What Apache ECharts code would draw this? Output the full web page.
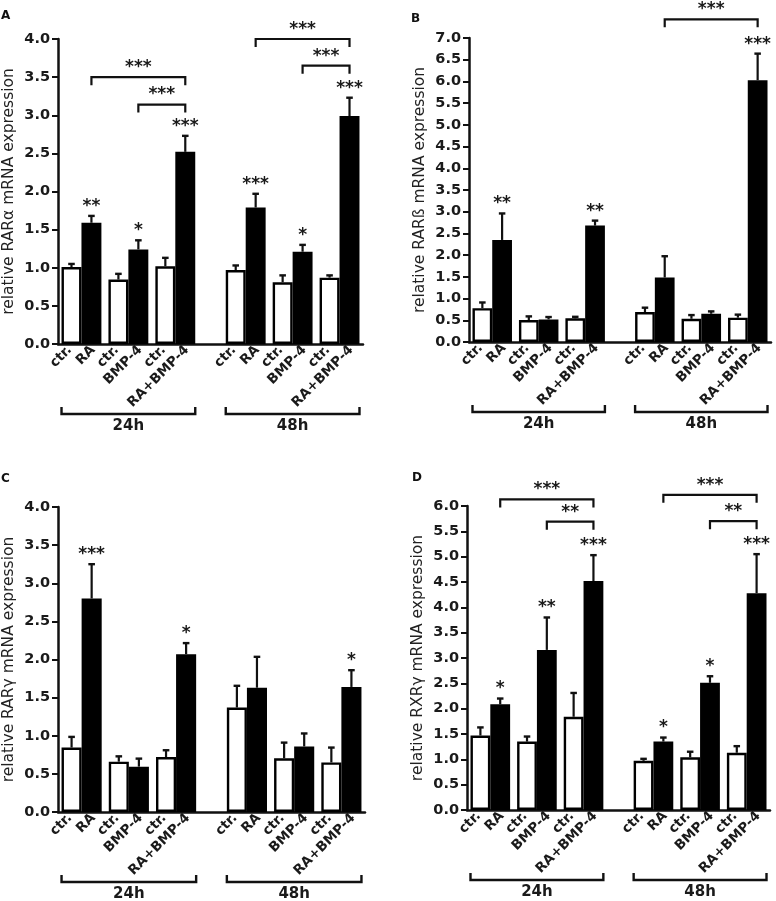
<!DOCTYPE html>
<html><head><meta charset="utf-8">
<script src="https://cdn.jsdelivr.net/npm/echarts@6/dist/echarts.min.js"></script>
<style>html,body{margin:0;padding:0;background:#fff;}#c{width:776px;height:901px;}</style>
</head><body><div id="c"></div>
<script>
// ---------- data ----------
const slotLabels = ['ctr.','RA','ctr.','BMP-4','ctr.','RA+BMP-4','','ctr.','RA','ctr.','BMP-4','ctr.','RA+BMP-4'];
const groupLabels = ['24h','48h'];
const panelLetters = ['A','B','C','D'];
const yTitles = ['relative RARα mRNA expression','relative RARß mRNA expression','relative RARγ mRNA expression','relative RXRγ mRNA expression'];
const yMax = [4.0, 7.0, 4.0, 6.0];

// Panel A (RARα)
const aCtrMean = [1.01, 0.845, 1.02, 0.97, 0.81, 0.87];
const aCtrSem  = [0.04, 0.075, 0.11, 0.06, 0.09, 0.03];
const aTrtMean = [1.59, 1.24, 2.52, 1.79, 1.21, 2.99];
const aTrtSem  = [0.09, 0.12, 0.21, 0.18, 0.09, 0.24];
const aSig     = ['**','*','***','***','*','***'];
const aBrackets = [[0,2,3.50,'***'],[1,2,3.14,'***'],[3,5,4.00,'***'],[4,5,3.65,'***']];

// Panel B (RARß)
const bCtrMean = [0.78, 0.505, 0.545, 0.69, 0.535, 0.56];
const bCtrSem  = [0.13, 0.085, 0.035, 0.10, 0.085, 0.07];
const bTrtMean = [2.35, 0.52, 2.68, 1.485, 0.65, 6.03];
const bTrtSem  = [0.61, 0.055, 0.115, 0.49, 0.055, 0.61];
const bSig     = ['**','','**','','','***'];
const bBrackets = [[3,5,7.43,'***']];

// Panel C (RARγ)
const cCtrMean = [0.845, 0.66, 0.72, 1.37, 0.705, 0.65];
const cCtrSem  = [0.14, 0.07, 0.09, 0.285, 0.205, 0.195];
const cTrtMean = [2.80, 0.595, 2.07, 1.63, 0.86, 1.64];
const cTrtSem  = [0.45, 0.105, 0.145, 0.405, 0.17, 0.22];
const cSig     = ['***','','*','','','*'];
const cBrackets = [];

// Panel D (RXRγ)
const dCtrMean = [1.47, 1.35, 1.84, 0.97, 1.04, 1.13];
const dCtrSem  = [0.16, 0.10, 0.47, 0.04, 0.11, 0.13];
const dTrtMean = [2.085, 3.16, 4.52, 1.35, 2.51, 4.28];
const dTrtSem  = [0.115, 0.64, 0.51, 0.08, 0.13, 0.77];
const dSig     = ['*','**','***','*','*','***'];
const dBrackets = [[0,2,6.13,'***'],[1,2,5.69,'**'],[3,5,6.22,'***'],[4,5,5.70,'**']];

// ---------- layout ----------
const layout = [
  {left:57,  top:39,  width:306, height:305, letter:[6,14]},
  {left:469, top:38,  width:302, height:304, letter:[416,17]},
  {left:58,  top:507, width:307, height:305, letter:[6,477]},
  {left:467, top:506, width:303, height:304, letter:[417,476]}
];
const panels = [
  {ctr:aCtrMean, ctrSem:aCtrSem, trt:aTrtMean, trtSem:aTrtSem, sig:aSig, br:aBrackets},
  {ctr:bCtrMean, ctrSem:bCtrSem, trt:bTrtMean, trtSem:bTrtSem, sig:bSig, br:bBrackets},
  {ctr:cCtrMean, ctrSem:cCtrSem, trt:cTrtMean, trtSem:cTrtSem, sig:cSig, br:cBrackets},
  {ctr:dCtrMean, ctrSem:dCtrSem, trt:dTrtMean, trtSem:dTrtSem, sig:dSig, br:dBrackets}
];

const FONT = '"DejaVu Sans", "Liberation Sans", Arial, sans-serif';
const INK = '#111';
const pairSlot = p => (p < 3 ? 2*p : 2*p + 1);
const WHITE_OFF = 0.075, BLACK_OFF = -0.075; // bar centre offset inside slot (fraction of slot)

const grid = [], xAxis = [], yAxis = [], series = [], graphic = [];

panels.forEach((P, i) => {
  const L = layout[i];
  grid.push({left:L.left, top:L.top, width:L.width, height:L.height});
  xAxis.push({
    gridIndex:i, type:'category', data:slotLabels, boundaryGap:true,
    axisLine:{show:true, lineStyle:{color:INK, width:2.5}},
    axisTick:{show:false},
    axisLabel:{interval:0, rotate:45, margin:4, fontFamily:FONT, fontWeight:'bold', fontSize:13.5, color:'#1a1a1a'},
    splitLine:{show:false}
  });
  yAxis.push({
    gridIndex:i, type:'value', min:0, max:yMax[i], interval:0.5,
    splitLine:{show:false},
    axisLine:{show:true, lineStyle:{color:INK, width:2.5}},
    axisTick:{show:true, length:6, lineStyle:{color:INK, width:2}},
    axisLabel:{formatter:v => v.toFixed(1), margin:8, fontFamily:FONT, fontWeight:'bold', fontSize:14.5, color:'#1a1a1a'},
    name:yTitles[i], nameLocation:'middle', nameGap:41,
    nameTextStyle:{fontFamily:FONT, fontSize:15.5, color:'#222'}
  });

  const blackData = slotLabels.map(() => null);
  const whiteData = slotLabels.map(() => null);
  const errData = [];
  const errSig = [];
  for (let p = 0; p < 6; p++) {
    const s = pairSlot(p);
    whiteData[s] = P.ctr[p];
    blackData[s+1] = P.trt[p];
    errData.push([s, P.ctr[p], P.ctr[p] + P.ctrSem[p], 0]); errSig.push('');
    errData.push([s+1, P.trt[p], P.trt[p] + P.trtSem[p], 1]); errSig.push(P.sig[p]);
  }

  series.push({
    type:'bar', xAxisIndex:i, yAxisIndex:i, data:blackData,
    barWidth:'85%', barGap:'-82.35%',
    itemStyle:{color:'#000', borderColor:'#000', borderWidth:2}, z:2, silent:true
  });
  series.push({
    type:'bar', xAxisIndex:i, yAxisIndex:i, data:whiteData,
    barWidth:'85%', barGap:'-82.35%',
    itemStyle:{color:'#fff', borderColor:'#000', borderWidth:2.4}, z:2, silent:true
  });

  // error bars + significance stars
  series.push({
    type:'custom', xAxisIndex:i, yAxisIndex:i, clip:false, z:3, silent:true,
    encode:{x:0, y:[1,2]}, data:errData,
    renderItem:(params, api) => {
      const slot = api.value(0), mean = api.value(1), up = api.value(2), kind = api.value(3);
      const u = api.size([1,0])[0];
      const b = api.coord([slot, mean]);
      const t = api.coord([slot, up]);
      const x = b[0] + (kind === 0 ? WHITE_OFF : BLACK_OFF) * u;
      const hw = 0.14 * u;
      const children = [
        {type:'line', shape:{x1:x, y1:b[1], x2:x, y2:t[1]}, style:{stroke:INK, lineWidth:2.2}},
        {type:'line', shape:{x1:x-hw, y1:t[1], x2:x+hw, y2:t[1]}, style:{stroke:INK, lineWidth:2.4}}
      ];
      const sg = errSig[params.dataIndex];
      if (sg) children.push({type:'text', style:{text:sg, x:x, y:t[1]-1, textAlign:'center', textVerticalAlign:'bottom', align:'center', verticalAlign:'bottom', font:'bold 17px ' + FONT, fill:'#1a1a1a'}});
      return {type:'group', children};
    }
  });

  // comparison brackets
  if (P.br.length) {
    const brData = P.br.map(b => [pairSlot(b[0]) + 1, b[2], pairSlot(b[1]) + 1]);
    const brText = P.br.map(b => b[3]);
    series.push({
      type:'custom', xAxisIndex:i, yAxisIndex:i, clip:false, z:3, silent:true,
      encode:{x:[0,2], y:1}, data:brData,
      renderItem:(params, api) => {
        const u = api.size([1,0])[0];
        const p1 = api.coord([api.value(0), api.value(1)]);
        const p2 = api.coord([api.value(2), api.value(1)]);
        const x1 = p1[0] + BLACK_OFF*u, x2 = p2[0] + BLACK_OFF*u, y = p1[1];
        return {type:'group', children:[
          {type:'polyline', shape:{points:[[x1,y+8],[x1,y],[x2,y],[x2,y+8]]}, style:{stroke:INK, lineWidth:2.2, fill:null}},
          {type:'text', style:{text:brText[params.dataIndex], x:(x1+x2)/2, y:y-1, textAlign:'center', textVerticalAlign:'bottom', align:'center', verticalAlign:'bottom', font:'bold 17px ' + FONT, fill:'#1a1a1a'}}
        ]};
      }
    });
  }

  // 24h / 48h group brackets under the axis
  series.push({
    type:'custom', xAxisIndex:i, yAxisIndex:i, clip:false, z:3, silent:true,
    encode:{x:[0,2], y:1}, data:[[0, 0, 5], [7, 0, 12]],
    renderItem:(params, api) => {
      const u = api.size([1,0])[0];
      const p1 = api.coord([api.value(0), 0]);
      const p2 = api.coord([api.value(2), 0]);
      const x1 = p1[0] - 0.35*u, x2 = p2[0] + 0.35*u, y = p1[1] + 70;
      return {type:'group', children:[
        {type:'polyline', shape:{points:[[x1,y-7],[x1,y],[x2,y],[x2,y-7]]}, style:{stroke:INK, lineWidth:2.4, fill:null}},
        {type:'text', style:{text:groupLabels[params.dataIndex], x:(x1+x2)/2, y:y+5, textAlign:'center', textVerticalAlign:'top', align:'center', verticalAlign:'top', font:'bold 15px ' + FONT, fill:'#1a1a1a'}}
      ]};
    }
  });

  graphic.push({type:'text', left:L.letter[0]-5, top:L.letter[1]-4, style:{text:panelLetters[i], font:'bold 12px ' + FONT, fill:'#111'}});
});

const chart = echarts.init(document.getElementById('c'), null, {renderer:'canvas'});
chart.setOption({animation:false, backgroundColor:'#fff', grid, xAxis, yAxis, series, graphic});
</script>
</body></html>
